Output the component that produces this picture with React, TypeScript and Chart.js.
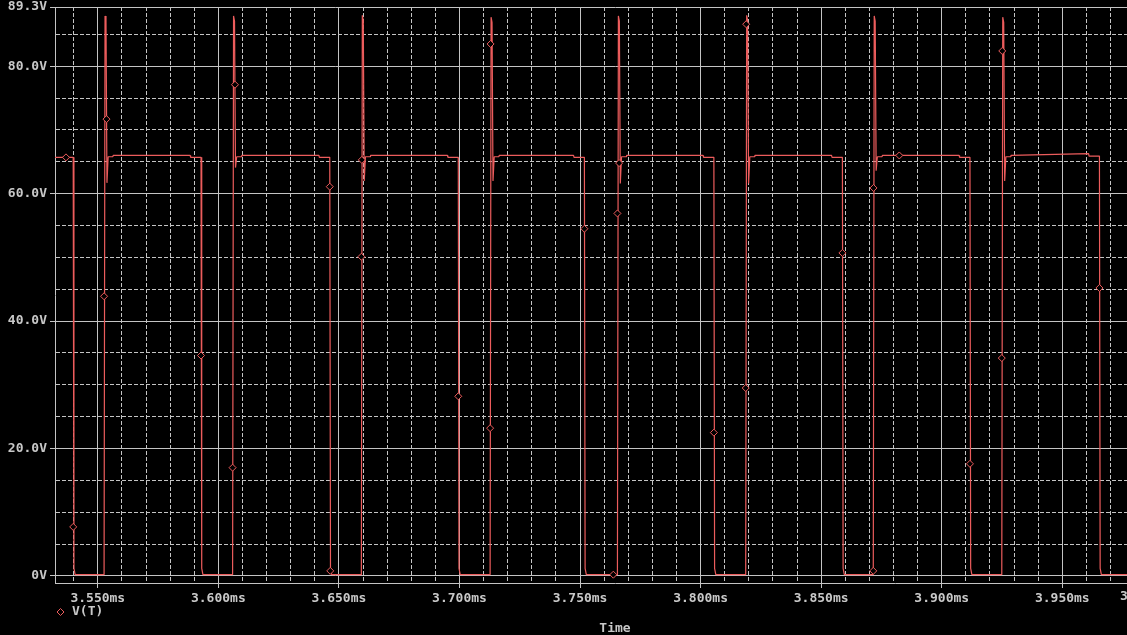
import { useEffect, useRef } from "react";
import { Chart, registerables } from "chart.js";

Chart.register(...registerables);

// ---- Data (time in ms, voltage in V) ----
const seriesLabel = "V(T)";
const xAxisTitle = "Time";

const timeMs = [
  3.5322, 3.5398, 3.5401, 3.5406,
  3.5526, 3.5530, 3.5534, 3.5538, 3.5543, 3.5562, 3.5564, 3.5883, 3.5885, 3.5928, 3.5931, 3.5936,
  3.6059, 3.6063, 3.6067, 3.6071, 3.6076, 3.6095, 3.6097, 3.6417, 3.6419, 3.6462, 3.6465, 3.6470,
  3.6593, 3.6597, 3.6601, 3.6605, 3.6610, 3.6629, 3.6631, 3.6950, 3.6952, 3.6995, 3.6998, 3.7003,
  3.7127, 3.7131, 3.7135, 3.7139, 3.7144, 3.7163, 3.7165, 3.7473, 3.7475, 3.7518, 3.7521, 3.7526,
  3.7655, 3.7659, 3.7663, 3.7667, 3.7672, 3.7691, 3.7693, 3.8010, 3.8012, 3.8055, 3.8058, 3.8063,
  3.8187, 3.8191, 3.8195, 3.8199, 3.8204, 3.8223, 3.8225, 3.8543, 3.8545, 3.8588, 3.8591, 3.8596,
  3.8716, 3.8720, 3.8724, 3.8728, 3.8733, 3.8752, 3.8754, 3.9072, 3.9074, 3.9117, 3.9120, 3.9125,
  3.9249, 3.9253, 3.9257, 3.9261, 3.9266, 3.9285, 3.9287, 3.9609, 3.9611, 3.9654, 3.9657, 3.9662,
  3.9967,
];

const voltage = [
  65.7, 65.7, 1.2, 0.2,
  0.2, 87.9, 87.1, 61.7, 65.8, 65.8, 66.0, 66.0, 65.7, 65.7, 1.2, 0.2,
  0.2, 87.9, 87.1, 64.1, 65.8, 65.8, 66.0, 66.0, 65.7, 65.7, 1.2, 0.2,
  0.2, 88.0, 87.2, 62.0, 65.8, 65.8, 66.0, 66.0, 65.7, 65.7, 1.2, 0.2,
  0.2, 87.7, 86.9, 62.0, 65.8, 65.8, 66.0, 66.0, 65.7, 65.7, 1.2, 0.2,
  0.2, 87.9, 87.1, 61.6, 65.8, 65.8, 66.0, 66.0, 65.7, 65.7, 1.2, 0.2,
  0.2, 88.0, 87.2, 61.6, 65.8, 65.8, 66.0, 66.0, 65.7, 65.7, 1.2, 0.2,
  0.2, 87.9, 87.1, 63.6, 65.8, 65.8, 66.0, 66.0, 65.7, 65.7, 1.2, 0.2,
  0.2, 87.7, 86.9, 62.0, 65.8, 65.8, 66.0, 66.3, 65.9, 65.9, 1.2, 0.2,
  0.2,
];

// PSpice trace markers (diamonds) placed on the trace
const markerTimeMs = [
  3.5368, 3.5398, 3.5526, 3.5536, 3.5928, 3.6059, 3.6069, 3.6462, 3.6464,
  3.6593, 3.6595, 3.6995, 3.7127, 3.7129, 3.7518, 3.7638, 3.7655, 3.7662,
  3.8055, 3.8187, 3.8189, 3.8588, 3.8716, 3.8717, 3.8824, 3.9117, 3.9249,
  3.9251, 3.9654,
];
const markerVoltage = [
  65.7, 7.7, 43.9, 71.7, 34.6, 17.0, 77.1, 61.1, 0.8,
  50.1, 65.3, 28.2, 23.2, 83.5, 54.5, 0.2, 56.9, 64.8,
  22.5, 29.5, 86.6, 50.7, 0.8, 60.9, 66.0, 17.6, 34.2,
  82.4, 45.2,
];

// Axis ranges and ticks
const X_MIN = 3.53225;
const X_MAX = 3.99674;
const Y_MIN = -1.1025;
const Y_MAX = 89.3;
const xLabelTicksMs = [3.55, 3.6, 3.65, 3.7, 3.75, 3.8, 3.85, 3.9, 3.95];
const yLabelTicks = [0, 20, 40, 60, 80, 89.3];
const xMinorStepUs = 10;
const yMinorStepV = 5;

// ---- Styles ----
const BG = "#000000";
const TRACE = "rgb(236, 92, 92)";
const GRID = "#c4c4c4";
const TEXT = "#c8c8c8";
const FONT_FAMILY = "'DejaVu Sans Mono', 'Liberation Mono', monospace";
const tickFont = { family: FONT_FAMILY, size: 13, weight: "bold" as const, lineHeight: 1 };

const xGridTicks: number[] = [];
for (let us = 3540; us <= 3990; us += xMinorStepUs) xGridTicks.push(us / 1000);
const yGridTicks: number[] = [];
for (let v = 0; v <= 85; v += yMinorStepV) yGridTicks.push(v);
yGridTicks.push(Y_MAX);

const isMajorX = (v: number | undefined) =>
  v !== undefined && xLabelTicksMs.some((t) => Math.abs(t - v) < 1e-7);
const isMajorY = (v: number | undefined) =>
  v !== undefined && yLabelTicks.some((t) => Math.abs(t - v) < 1e-7);

const overlayPlugin = {
  id: "pspiceOverlay",
  afterDraw(chart: any) {
    const { ctx, chartArea } = chart;
    ctx.save();
    // legend entry: diamond + label
    const cx = chartArea.left + 5.5;
    const cy = 612;
    ctx.beginPath();
    ctx.moveTo(cx, cy - 3.5);
    ctx.lineTo(cx + 3.5, cy);
    ctx.lineTo(cx, cy + 3.5);
    ctx.lineTo(cx - 3.5, cy);
    ctx.closePath();
    ctx.strokeStyle = TRACE;
    ctx.lineWidth = 1;
    ctx.stroke();
    ctx.font = `bold 13px ${FONT_FAMILY}`;
    ctx.fillStyle = TEXT;
    ctx.textAlign = "left";
    ctx.textBaseline = "middle";
    ctx.fillText(seriesLabel, chartArea.left + 17, cy);
    // partially visible label at the right edge of the window
    ctx.fillText("3", 1120, 597);
    ctx.restore();
  },
};

export default function App() {
  const canvasRef = useRef<HTMLCanvasElement | null>(null);

  useEffect(() => {
    document.body.style.margin = "0";
    document.body.style.background = BG;
    document.body.style.overflow = "hidden";
    const canvas = canvasRef.current;
    if (!canvas) return;

    const tracePoints = timeMs.map((t, i) => ({ x: t, y: voltage[i] }));
    const markerPoints = markerTimeMs.map((t, i) => ({ x: t, y: markerVoltage[i] }));

    const chart = new Chart(canvas, {
      type: "line",
      data: {
        datasets: [
          {
            label: seriesLabel + " markers",
            data: markerPoints,
            showLine: false,
            pointStyle: "rectRot",
            pointRadius: 3.5,
            pointBorderWidth: 1,
            pointBorderColor: TRACE,
            pointBackgroundColor: BG,
            order: 0,
          },
          {
            label: seriesLabel,
            data: tracePoints,
            borderColor: TRACE,
            borderWidth: 1.2,
            borderJoinStyle: "bevel",
            pointRadius: 0,
            tension: 0,
            fill: false,
            order: 1,
          },
        ],
      },
      options: {
        animation: false,
        responsive: true,
        maintainAspectRatio: false,
        events: [],
        layout: { padding: { top: 7, left: 0, right: 0, bottom: 0 } },
        plugins: {
          legend: { display: false },
          tooltip: { enabled: false },
        },
        scales: {
          x: {
            type: "linear",
            min: X_MIN,
            max: X_MAX,
            afterBuildTicks: (s: any) => {
              s.ticks = xGridTicks.map((v) => ({ value: v }));
            },
            afterFit: (s: any) => {
              s.height = 52;
              s.paddingLeft = 0;
              s.paddingRight = 0;
            },
            ticks: {
              autoSkip: false,
              maxRotation: 0,
              minRotation: 0,
              padding: 4,
              color: TEXT,
              font: tickFont,
              callback: (v: any) => (isMajorX(Number(v)) ? Number(v).toFixed(3) + "ms" : ""),
            },
            grid: {
              color: GRID,
              lineWidth: 1,
              drawTicks: true,
              tickLength: 5,
              tickColor: (c: any) => (isMajorX(c.tick?.value) ? GRID : "rgba(0,0,0,0)"),
            },
            border: {
              display: true,
              color: GRID,
              width: 1,
              dash: (c: any) => (c.tick && !isMajorX(c.tick.value) ? [4, 2] : []),
            },
            title: {
              display: true,
              text: xAxisTitle,
              color: TEXT,
              font: tickFont,
              padding: { top: 0, bottom: 0 },
            },
          },
          y: {
            type: "linear",
            min: Y_MIN,
            max: Y_MAX,
            afterBuildTicks: (s: any) => {
              s.ticks = yGridTicks.map((v) => ({ value: v }));
            },
            afterFit: (s: any) => {
              s.width = 55;
              s.paddingTop = 0;
              s.paddingBottom = 0;
            },
            ticks: {
              autoSkip: false,
              padding: 3,
              color: TEXT,
              font: tickFont,
              callback: (v: any) => {
                const n = Number(v);
                if (!isMajorY(n)) return "";
                if (n === 0) return "0V";
                return n.toFixed(1) + "V";
              },
            },
            grid: {
              color: GRID,
              lineWidth: 1,
              drawTicks: true,
              tickLength: 5,
              tickColor: (c: any) => (isMajorY(c.tick?.value) ? GRID : "rgba(0,0,0,0)"),
            },
            border: {
              display: true,
              color: GRID,
              width: 1,
              dash: (c: any) => (c.tick && !isMajorY(c.tick.value) ? [4, 2] : []),
            },
          },
        },
      },
      plugins: [overlayPlugin],
    } as any);

    return () => chart.destroy();
  }, []);

  return (
    <div style={{ width: 1127, height: 635, overflow: "hidden", background: BG }}>
      <div style={{ width: 1180, height: 635, position: "relative" }}>
        <canvas ref={canvasRef} />
      </div>
    </div>
  );
}
